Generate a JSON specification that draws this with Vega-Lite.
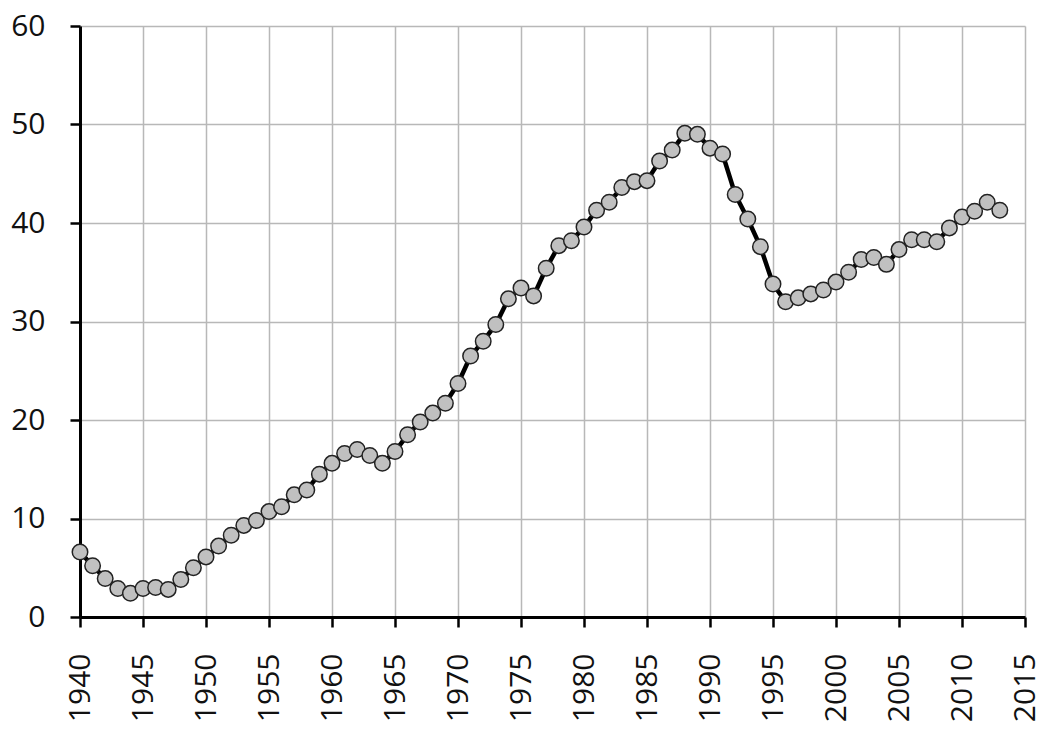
{
  "$schema": "https://vega.github.io/schema/vega-lite/v6.json",
  "width": 945,
  "height": 591,
  "autosize": {"type": "none"},
  "padding": {"left": 80, "top": 26, "right": 22, "bottom": 114},
  "background": "white",
  "config": {
    "view": {"stroke": null},
    "axis": {
      "gridColor": "#b8b8b8",
      "gridWidth": 1.5,
      "domainColor": "black",
      "domainWidth": 3,
      "tickColor": "black",
      "tickWidth": 2.5,
      "tickSize": 10,
      "labelFont": "Open Sans",
      "labelFontSize": 30,
      "labelColor": "#111",
      "title": null
    }
  },
  "data": {
    "values": [
      {"year": 1940, "v": 6.6}, {"year": 1941, "v": 5.2}, {"year": 1942, "v": 3.9}, {"year": 1943, "v": 2.9},
      {"year": 1944, "v": 2.4}, {"year": 1945, "v": 2.9}, {"year": 1946, "v": 3.0}, {"year": 1947, "v": 2.8},
      {"year": 1948, "v": 3.8}, {"year": 1949, "v": 5.0}, {"year": 1950, "v": 6.1}, {"year": 1951, "v": 7.2},
      {"year": 1952, "v": 8.3}, {"year": 1953, "v": 9.3}, {"year": 1954, "v": 9.8}, {"year": 1955, "v": 10.7},
      {"year": 1956, "v": 11.2}, {"year": 1957, "v": 12.4}, {"year": 1958, "v": 12.9}, {"year": 1959, "v": 14.5},
      {"year": 1960, "v": 15.6}, {"year": 1961, "v": 16.6}, {"year": 1962, "v": 17.0}, {"year": 1963, "v": 16.4},
      {"year": 1964, "v": 15.6}, {"year": 1965, "v": 16.8}, {"year": 1966, "v": 18.5}, {"year": 1967, "v": 19.8},
      {"year": 1968, "v": 20.7}, {"year": 1969, "v": 21.7}, {"year": 1970, "v": 23.7}, {"year": 1971, "v": 26.5},
      {"year": 1972, "v": 28.0}, {"year": 1973, "v": 29.7}, {"year": 1974, "v": 32.3}, {"year": 1975, "v": 33.4},
      {"year": 1976, "v": 32.6}, {"year": 1977, "v": 35.4}, {"year": 1978, "v": 37.7}, {"year": 1979, "v": 38.2},
      {"year": 1980, "v": 39.6}, {"year": 1981, "v": 41.3}, {"year": 1982, "v": 42.1}, {"year": 1983, "v": 43.6},
      {"year": 1984, "v": 44.2}, {"year": 1985, "v": 44.3}, {"year": 1986, "v": 46.3}, {"year": 1987, "v": 47.4},
      {"year": 1988, "v": 49.1}, {"year": 1989, "v": 49.0}, {"year": 1990, "v": 47.6}, {"year": 1991, "v": 47.0},
      {"year": 1992, "v": 42.9}, {"year": 1993, "v": 40.4}, {"year": 1994, "v": 37.6}, {"year": 1995, "v": 33.8},
      {"year": 1996, "v": 32.0}, {"year": 1997, "v": 32.4}, {"year": 1998, "v": 32.8}, {"year": 1999, "v": 33.2},
      {"year": 2000, "v": 34.0}, {"year": 2001, "v": 35.0}, {"year": 2002, "v": 36.3}, {"year": 2003, "v": 36.5},
      {"year": 2004, "v": 35.8}, {"year": 2005, "v": 37.3}, {"year": 2006, "v": 38.3}, {"year": 2007, "v": 38.3},
      {"year": 2008, "v": 38.1}, {"year": 2009, "v": 39.5}, {"year": 2010, "v": 40.6}, {"year": 2011, "v": 41.2},
      {"year": 2012, "v": 42.1}, {"year": 2013, "v": 41.3}
    ]
  },
  "encoding": {
    "x": {
      "field": "year",
      "type": "quantitative",
      "scale": {"domain": [1940, 2015], "nice": false, "zero": false},
      "axis": {
        "values": [1940, 1945, 1950, 1955, 1960, 1965, 1970, 1975, 1980, 1985, 1990, 1995, 2000, 2005, 2010, 2015],
        "format": "d",
        "labelAngle": -90,
        "labelAlign": "right",
        "labelBaseline": "middle",
        "labelPadding": 26
      }
    },
    "y": {
      "field": "v",
      "type": "quantitative",
      "scale": {"domain": [0, 60], "nice": false},
      "axis": {
        "values": [0, 10, 20, 30, 40, 50, 60],
        "labelPadding": 25
      }
    }
  },
  "layer": [
    {
      "mark": {"type": "line", "color": "black", "strokeWidth": 4.5}
    },
    {
      "mark": {"type": "point", "filled": true, "fill": "#c0c0c0", "stroke": "#222", "strokeWidth": 1.5, "opacity": 1, "size": 240, "shape": "circle"}
    }
  ]
}
